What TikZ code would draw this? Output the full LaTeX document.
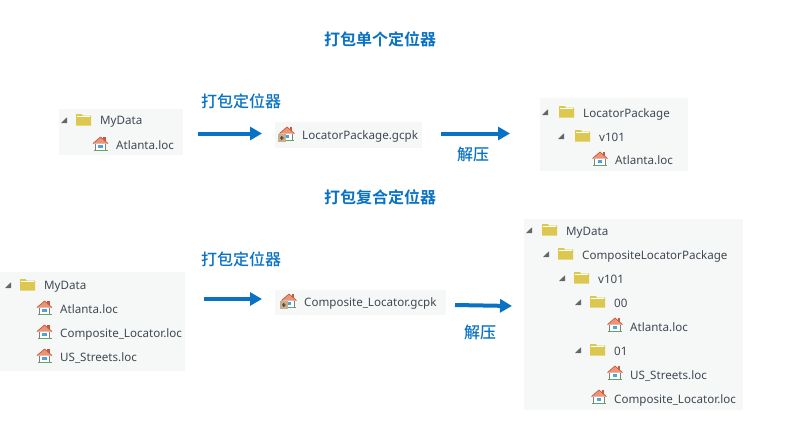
\documentclass[tikz,border=0pt]{standalone}
\usepackage{fontspec}
\setmainfont{Noto Sans}
\newfontfamily\cjk{Noto Sans CJK SC Medium}
\newfontfamily\cjkbold{Noto Sans CJK SC Bold}
\usetikzlibrary{arrows.meta}
\definecolor{panelbg}{HTML}{F6F8F7}
\definecolor{bluetxt}{HTML}{0A72C4}
\definecolor{foldery}{HTML}{DCC74F}
\definecolor{roofred}{HTML}{E8957A}
\definecolor{chimney}{HTML}{C9573A}
\definecolor{lawn}{HTML}{5FA85F}
\definecolor{winblue}{HTML}{4FA3DC}
\definecolor{boxtan}{HTML}{C8AE8C}
\definecolor{itemtxt}{HTML}{404852}

\tikzset{
  pics/folder/.style={code={
    \fill[foldery] (-7.5,-6) -- (-2,-6) -- (-0.5,-4.5) -- (7.5,-4.5) -- (7.5,5.5) -- (-7.5,5.5) -- cycle;
    \fill[white] (-6.5,-3.6) rectangle (6.5,-2.6);
  }},
  pics/expander/.style={code={
    \fill[gray!80!black] (3,-2.7) -- (3,3) -- (-3,3) -- cycle;
  }},
  pics/loc/.style={code={
    \fill[chimney] (2.8,-8.5) rectangle (5,-4);
    \fill[roofred] (-7.5,-1.5) -- (0,-8) -- (7.5,-1.5) -- cycle;
    \draw[chimney, line width=0.7pt] (-7.5,-1.5) -- (0,-8) -- (7.5,-1.5);
    \fill[white] (-5.2,-1.5) rectangle (5.2,5);
    \draw[lawn, line width=1pt] (-7,5.8) -- (7,5.8);
    \draw[gray, line width=0.7pt] (-5.2,-1.5) -- (-5.2,5.3) (5.2,-1.5) -- (5.2,5.3);
    \fill[winblue] (-2.4,0) rectangle (2.4,3.2);
  }},
  pics/package/.style={code={
    \pic at (1,1) {loc};
    \fill[boxtan] (-8,0) rectangle (-0.5,8);
    \fill[black!70] (-6,3.4) rectangle (-2.5,4.7) (-4.9,2.2) rectangle (-3.6,5.9);
  }}
}

\begin{document}
\begin{tikzpicture}[x=1pt, y=-1pt]
    \tikzstyle{panel}=[fill=panelbg, draw=none]
    \tikzstyle{item}=[anchor=west, inner sep=0pt, text=itemtxt, text height=9pt, text depth=0pt, font=\fontsize{11.6}{14}\selectfont]
    \tikzstyle{title}=[text=bluetxt, inner sep=0pt, font=\cjkbold\fontsize{16}{18}\selectfont]
    \tikzstyle{label}=[text=bluetxt, inner sep=0pt, font=\cjk\fontsize{16}{18}\selectfont]
    \tikzstyle{flow}=[draw=bluetxt, line width=4pt, -{Triangle[length=12pt, width=13pt]}]
    \useasboundingbox (0,0) rectangle (786,431);

    \node[title] (single) at (380,39) {打包单个定位器};
    \node[title] (composite) at (380,197) {打包复合定位器};

    % single locator
    \fill[panel] (59,109) rectangle (183,155);
    \pic at (64,120) {expander};
    \pic at (83.5,120) {folder};
    \node[item] (mydata1) at (100,120) {MyData};
    \pic at (100.5,145) {loc};
    \node[item] (atlanta1) at (116,144.5) {Atlanta.loc};

    \fill[panel] (275,122) rectangle (422,148);
    \pic at (286,134) {package};
    \node[item] (gcpk1) at (302,134.5) {LocatorPackage.gcpk};

    \fill[panel] (540,98) rectangle (688,171);
    \pic at (545,112) {expander};
    \pic at (566.5,112) {folder};
    \node[item] (locpkg) at (583,112.5) {LocatorPackage};
    \pic at (561,136) {expander};
    \pic at (582.5,136) {folder};
    \node[item] (v1011) at (599,136.5) {v101};
    \pic at (600,160) {loc};
    \node[item] (atlanta2) at (615,160) {Atlanta.loc};

    \coordinate (a1) at (198,133.5);
    \coordinate (a2) at (262,133.5);
    \coordinate (a3) at (441,133.5);
    \coordinate (a4) at (510,133.5);
    \draw[flow] (a1)--(a2);
    \draw[flow] (a3)--(a4);
    \node[label] (pack1) at (241,101) {打包定位器};
    \node[label] (unzip1) at (473,154) {解压};

    % composite locator
    \fill[panel] (0,272) rectangle (185,371);
    \pic at (8,285) {expander};
    \pic at (27.5,285) {folder};
    \node[item] (mydata2) at (44,285) {MyData};
    \foreach \y/\n/\t in {309/atlanta3/Atlanta.loc, 333/comp1/Composite\_Locator.loc, 357/streets1/US\_Streets.loc}{
      \pic at (44.5,\y) {loc};
      \node[item] (\n) at (60,\y) {\t};
    }

    \fill[panel] (275,290) rectangle (446,315);
    \pic at (288,301) {package};
    \node[item] (gcpk2) at (304,302) {Composite\_Locator.gcpk};

    \fill[panel] (524,219) rectangle (743,410);
    \pic at (529,230) {expander};
    \pic at (549.5,230) {folder};
    \node[item] (mydata3) at (566,230.5) {MyData};
    \pic at (546,254) {expander};
    \pic at (565.5,254) {folder};
    \node[item] (comppkg) at (582,254.5) {CompositeLocatorPackage};
    \pic at (562,278) {expander};
    \pic at (581.5,278) {folder};
    \node[item] (v1012) at (598,278.5) {v101};
    \pic at (578,302) {expander};
    \pic at (597.5,302) {folder};
    \node[item] (dir00) at (614,302.5) {00};
    \pic at (615,326) {loc};
    \node[item] (atlanta4) at (630,326.5) {Atlanta.loc};
    \pic at (578,350) {expander};
    \pic at (597.5,350) {folder};
    \node[item] (dir01) at (614,350.5) {01};
    \pic at (615,374) {loc};
    \node[item] (streets2) at (630,374.5) {US\_Streets.loc};
    \pic at (599,398) {loc};
    \node[item] (comp2) at (614,398.5) {Composite\_Locator.loc};

    \coordinate (b1) at (204,299);
    \coordinate (b2) at (262,299);
    \coordinate (b3) at (455,305);
    \coordinate (b4) at (512,306);
    \draw[flow] (b1)--(b2);
    \draw[flow] (b3)--(b4);
    \node[label] (pack2) at (241,259) {打包定位器};
    \node[label] (unzip2) at (480,332) {解压};
\end{tikzpicture}
\end{document}
